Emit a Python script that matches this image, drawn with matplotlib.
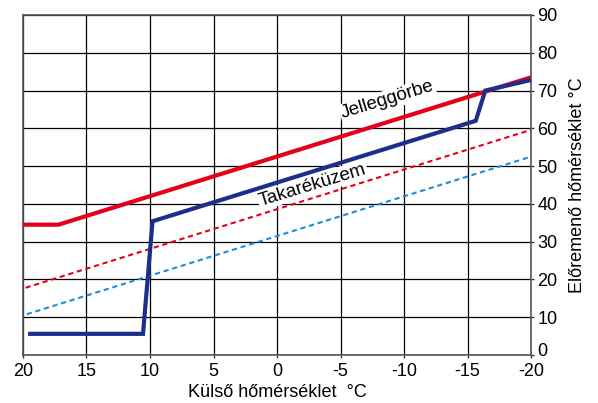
import matplotlib.pyplot as plt
import matplotlib.transforms as mtransforms
import numpy as np

plt.rcParams["font.family"] = ["Liberation Sans", "DejaVu Sans"]

# outdoor temperature (x) vs flow temperature (y)
jelleg_x = [20, 17.2, -20]
jelleg_y = [34.5, 34.5, 73.5]

takarek_x = [19.6, 10.55, 9.8, -15.65, -16.4, -20]
takarek_y = [5.6, 5.6, 35.4, 62.0, 70.0, 72.8]

red_dot_x = [19.8, -20]
red_dot_y = [17.8, 59.6]

blue_dot_x = [19.7, -20]
blue_dot_y = [10.8, 52.5]

x_ticks = [20, 15, 10, 5, 0, -5, -10, -15, -20]
y_ticks = [0, 10, 20, 30, 40, 50, 60, 70, 80, 90]

fig = plt.figure(figsize=(5.98, 4.03), dpi=100)
ax = fig.add_axes([23 / 598, 48 / 403, 508 / 598, 340 / 403])

ax.plot(jelleg_x, jelleg_y, color="#e3001b", lw=3.0, solid_capstyle="butt", zorder=4)
ax.plot(takarek_x, takarek_y, color="#1d2f8a", lw=3.0, solid_capstyle="butt",
        solid_joinstyle="miter", zorder=4)
ax.plot(red_dot_x, red_dot_y, color="#e3001b", lw=1.5, ls=(0, (2.5, 1.8)), zorder=3)
ax.plot(blue_dot_x, blue_dot_y, color="#1a8fd6", lw=1.5, ls=(0, (2.5, 1.8)), zorder=3)

ax.set_xlim(20, -20)
ax.set_ylim(0, 90)
ax.set_xticks(x_ticks)
ax.set_yticks(y_ticks)
ax.set_xticklabels([str(v) for v in x_ticks])
ax.yaxis.tick_right()
ax.yaxis.set_label_position("right")
ax.tick_params(axis="both", labelsize=13, length=2.5, width=1, color="#333333")
ax.tick_params(axis="x", pad=3)
ax.tick_params(axis="y", pad=2)
ax.grid(True, color="black", lw=0.9)
for s in ax.spines.values():
    s.set_color("#555555")
    s.set_linewidth(1.2)

# nudge the "0" label up so it clears the "-20" below it
zero_lbl = ax.get_yticklabels()[0]
zero_lbl.set_transform(zero_lbl.get_transform()
                       + mtransforms.ScaledTranslation(0, 4 / 72, fig.dpi_scale_trans))

ax.set_xlabel("Külső hőmérséklet  °C", fontsize=13, labelpad=3)
ax.set_ylabel("Előremenő hőmérséklet °C", fontsize=13, labelpad=8)

box = dict(facecolor="white", edgecolor="none", pad=1)
ax.text(-8.7, 67.5, "Jelleggörbe", rotation=17, fontsize=13.5, ha="center", va="center",
        bbox=box, zorder=3.5)
ax.text(-2.8, 45, "Takaréküzem", rotation=17, fontsize=13.5, ha="center", va="center",
        bbox=box, zorder=3.5)

fig.savefig("out.png", dpi=100)
